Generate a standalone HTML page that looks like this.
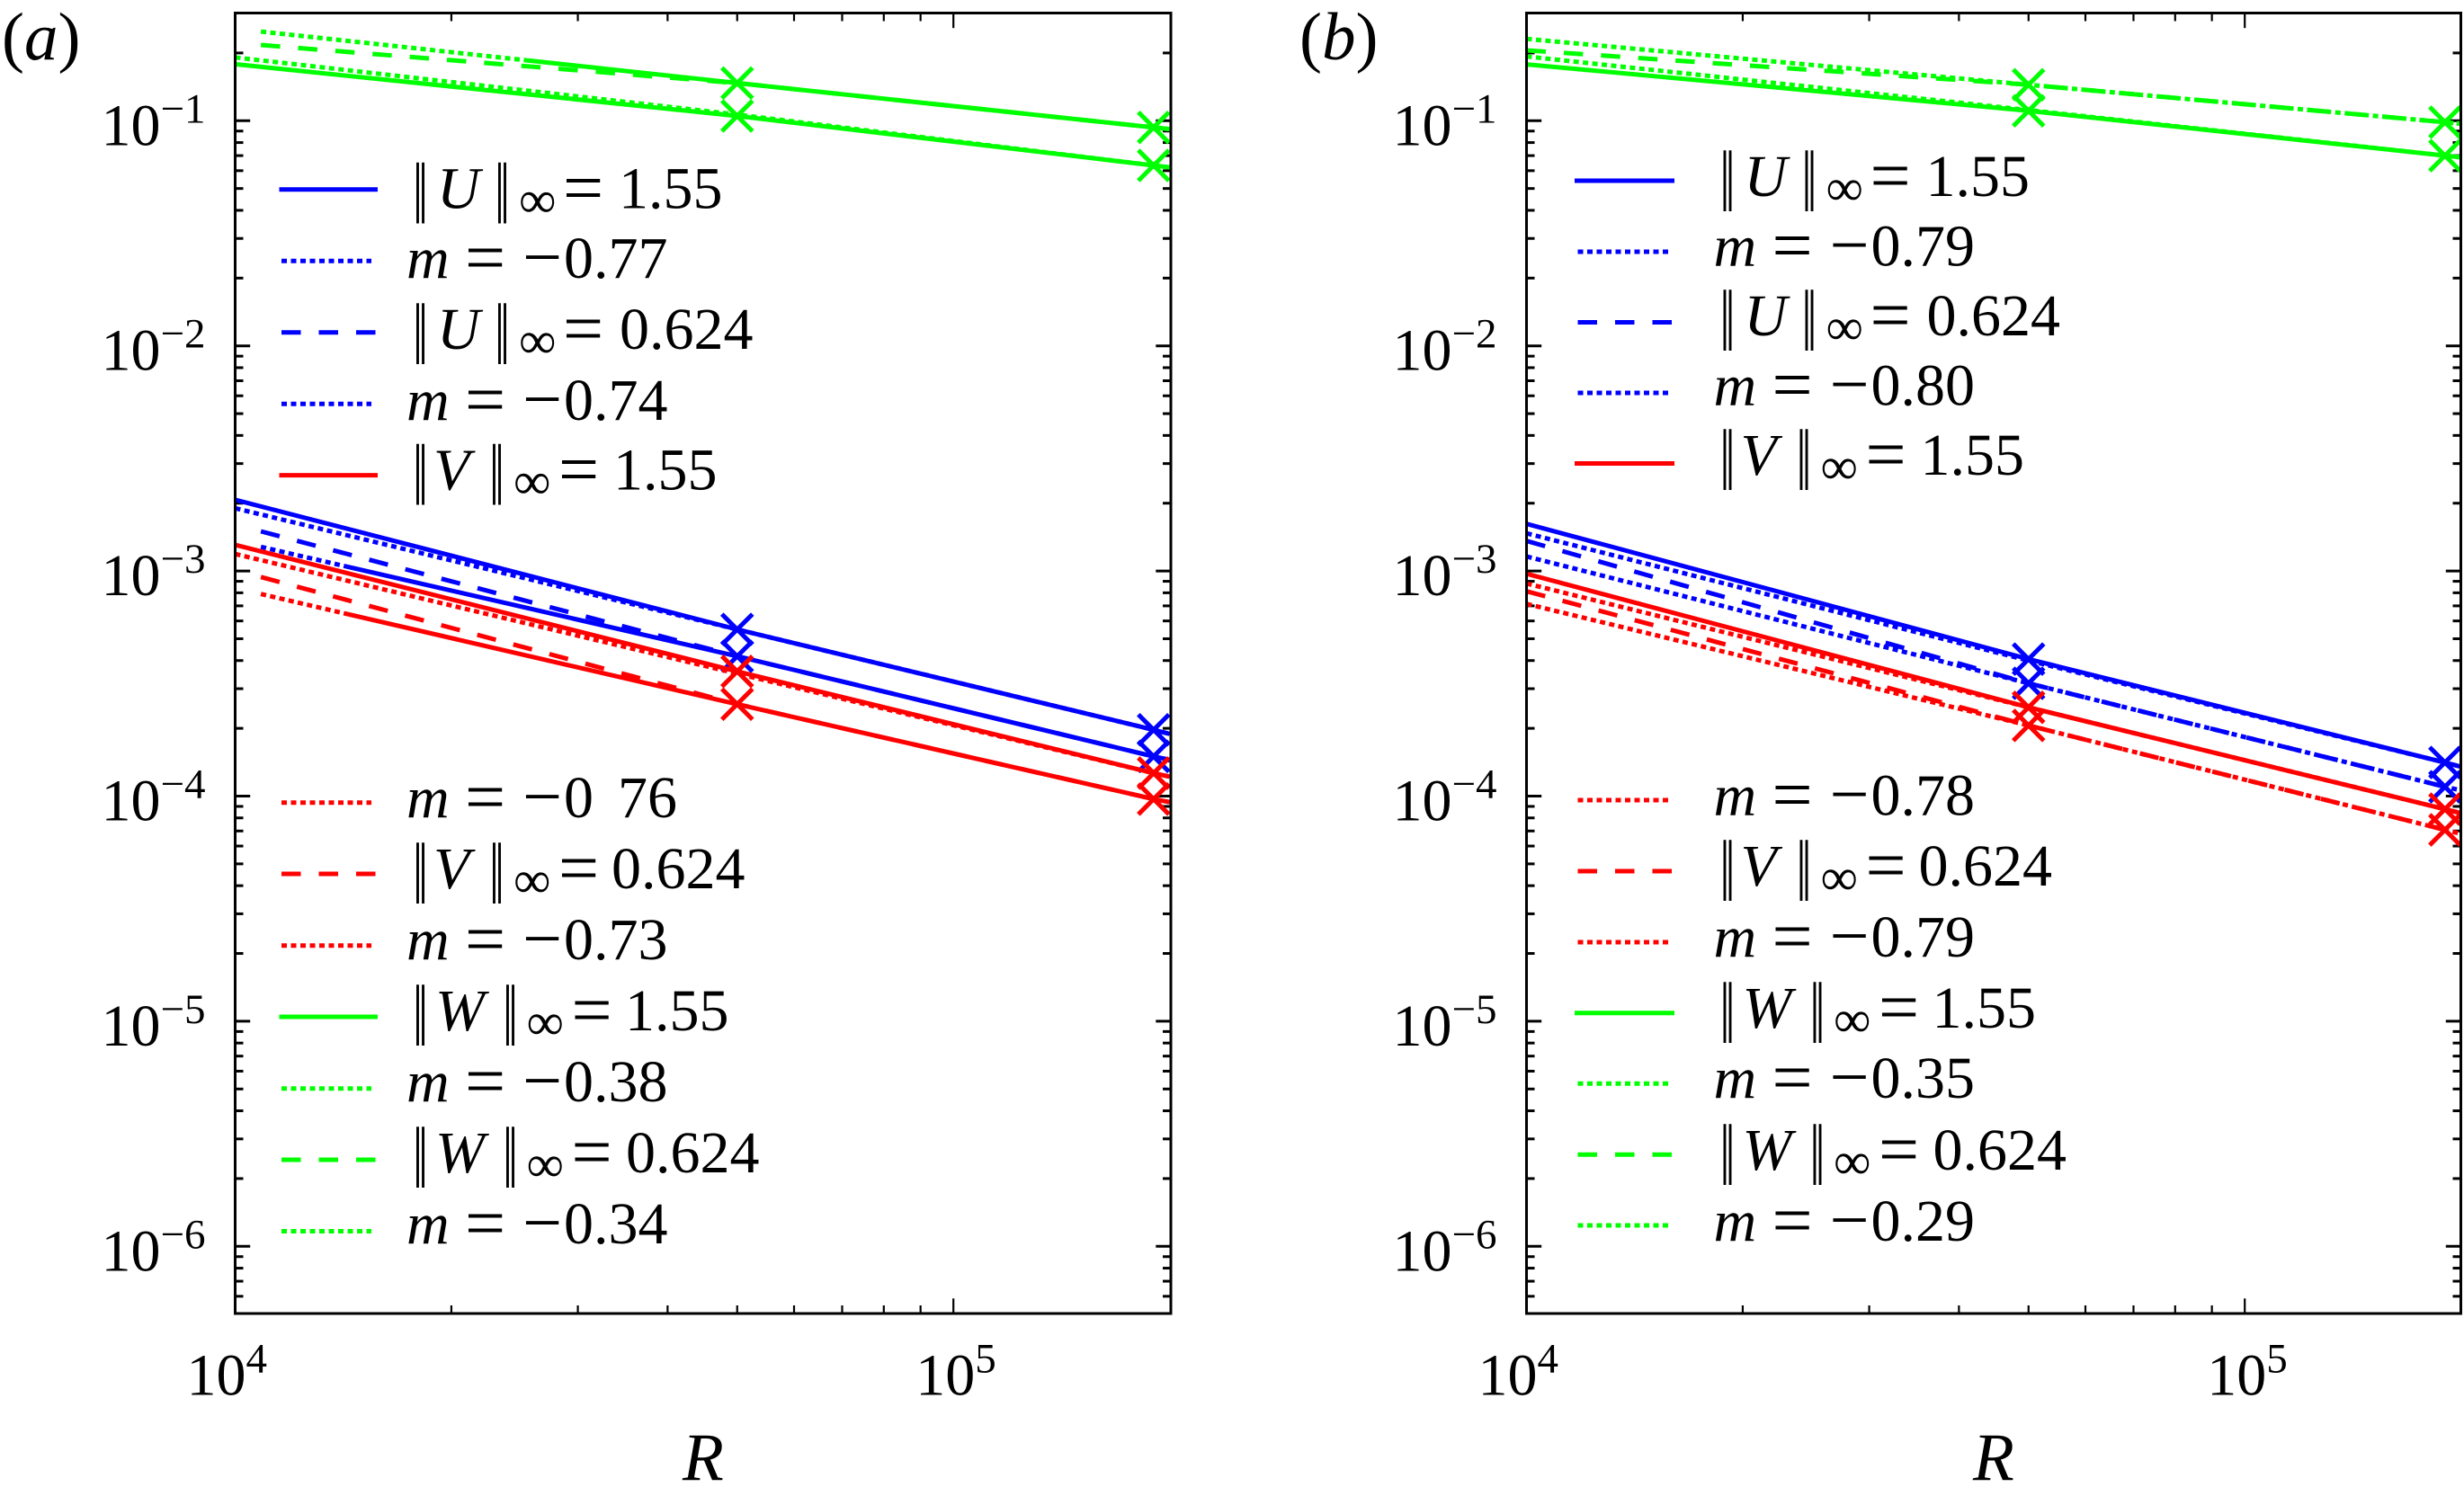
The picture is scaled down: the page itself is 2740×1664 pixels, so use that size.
<!DOCTYPE html>
<html lang="en">
<head>
<meta charset="utf-8">
<title>Scaling of velocity norms with R</title>
<style>
html,body{margin:0;padding:0;background:#fff;}
svg{display:block;}
text{font-family:"Liberation Serif","DejaVu Serif",serif;font-size:66px;fill:#000;}
.i{font-style:italic;}
.s{font-size:58px;}
.e{font-size:80px;baseline-shift:-4px;}
.m{font-size:78px;baseline-shift:-3px;}
.n{font-size:97px;baseline-shift:-17px;}
.sup{font-size:47px;}
.big{font-size:75px;}
.sample{stroke-width:5;fill:none;}
.dash{stroke-dasharray:21.5 20;}
.dot{stroke-dasharray:6 4.5;}
.b{stroke:#0000ff;}.r{stroke:#ff0000;}.g{stroke:#00ff00;}
</style>
</head>
<body>
<svg id="figure" xmlns="http://www.w3.org/2000/svg" width="2740" height="1664" viewBox="0 0 2740 1664">
<rect width="2740" height="1664" fill="#fff"/>
<defs>
<clipPath id="clip-a"><rect x="261.5" y="14.5" width="1040.5" height="1446.5"/></clipPath>
<clipPath id="clip-b"><rect x="1697.5" y="14.5" width="1039" height="1446.5"/></clipPath>
</defs>
<g id="plot-a"></g>
<g id="plot-b"></g>

<text class="big" x="2" y="66">(<tspan class="i">a</tspan>)</text>
<text class="big" x="1445" y="66">(<tspan class="i">b</tspan>)</text>
<text class="big i" x="759" y="1646">R</text>
<text class="big i" x="2194" y="1646">R</text>

<g>
<line class="sample b" x1="310.5" x2="420" y1="210.7" y2="210.7"/>
<text y="231.4"><tspan x="459" class="n" textLength="17" lengthAdjust="spacingAndGlyphs">‖</tspan><tspan x="486" class="i">U</tspan><tspan x="550" class="n" textLength="17" lengthAdjust="spacingAndGlyphs">‖</tspan><tspan x="577" dy="10" class="s">∞</tspan><tspan x="626" dy="-10" class="e">=</tspan><tspan x="688">1.55</tspan></text>
<line class="sample b dot" x1="313" x2="413" y1="290.2" y2="290.2"/>
<text y="309"><tspan x="452" class="i">m</tspan><tspan x="517" class="e">=</tspan><tspan x="581" class="m">−</tspan><tspan x="627">0.77</tspan></text>
<line class="sample b dash" x1="313" x2="418" y1="369.7" y2="369.7"/>
<text y="388"><tspan x="459" class="n" textLength="17" lengthAdjust="spacingAndGlyphs">‖</tspan><tspan x="486" class="i">U</tspan><tspan x="550" class="n" textLength="17" lengthAdjust="spacingAndGlyphs">‖</tspan><tspan x="577" dy="10" class="s">∞</tspan><tspan x="626" dy="-10" class="e">=</tspan><tspan x="689">0.624</tspan></text>
<line class="sample b dot" x1="313" x2="413" y1="449.2" y2="449.2"/>
<text y="466.8"><tspan x="452" class="i">m</tspan><tspan x="517" class="e">=</tspan><tspan x="581" class="m">−</tspan><tspan x="627">0.74</tspan></text>
<line class="sample r" x1="310.5" x2="420" y1="528.6" y2="528.6"/>
<text y="544.6"><tspan x="459" class="n" textLength="17" lengthAdjust="spacingAndGlyphs">‖</tspan><tspan x="482" class="i">V</tspan><tspan x="544" class="n" textLength="17" lengthAdjust="spacingAndGlyphs">‖</tspan><tspan x="571" dy="10" class="s">∞</tspan><tspan x="621" dy="-10" class="e">=</tspan><tspan x="682">1.55</tspan></text>

<line class="sample r dot" x1="313" x2="413" y1="892.7" y2="892.7"/>
<text y="909"><tspan x="452" class="i">m</tspan><tspan x="517" class="e">=</tspan><tspan x="581" class="m">−</tspan><tspan x="627">0</tspan><tspan x="687">76</tspan></text>
<line class="sample r dash" x1="313" x2="418" y1="972" y2="972"/>
<text y="988"><tspan x="459" class="n" textLength="17" lengthAdjust="spacingAndGlyphs">‖</tspan><tspan x="482" class="i">V</tspan><tspan x="544" class="n" textLength="17" lengthAdjust="spacingAndGlyphs">‖</tspan><tspan x="571" dy="10" class="s">∞</tspan><tspan x="621" dy="-10" class="e">=</tspan><tspan x="680">0.624</tspan></text>
<line class="sample r dot" x1="313" x2="413" y1="1051.7" y2="1051.7"/>
<text y="1067"><tspan x="452" class="i">m</tspan><tspan x="517" class="e">=</tspan><tspan x="581" class="m">−</tspan><tspan x="627">0.73</tspan></text>
<line class="sample g" x1="310.5" x2="420" y1="1131" y2="1131"/>
<text y="1146"><tspan x="459" class="n" textLength="17" lengthAdjust="spacingAndGlyphs">‖</tspan><tspan x="484" class="i">W</tspan><tspan x="559" class="n" textLength="17" lengthAdjust="spacingAndGlyphs">‖</tspan><tspan x="585.5" dy="10" class="s">∞</tspan><tspan x="635.5" dy="-10" class="e">=</tspan><tspan x="695">1.55</tspan></text>
<line class="sample g dot" x1="313" x2="413" y1="1210.7" y2="1210.7"/>
<text y="1225"><tspan x="452" class="i">m</tspan><tspan x="517" class="e">=</tspan><tspan x="581" class="m">−</tspan><tspan x="627">0.38</tspan></text>
<line class="sample g dash" x1="313" x2="418" y1="1290" y2="1290"/>
<text y="1304"><tspan x="459" class="n" textLength="17" lengthAdjust="spacingAndGlyphs">‖</tspan><tspan x="484" class="i">W</tspan><tspan x="559" class="n" textLength="17" lengthAdjust="spacingAndGlyphs">‖</tspan><tspan x="585.5" dy="10" class="s">∞</tspan><tspan x="635.5" dy="-10" class="e">=</tspan><tspan x="696">0.624</tspan></text>
<line class="sample g dot" x1="313" x2="413" y1="1369.5" y2="1369.5"/>
<text y="1383"><tspan x="452" class="i">m</tspan><tspan x="517" class="e">=</tspan><tspan x="581" class="m">−</tspan><tspan x="627">0.34</tspan></text>
</g>

<g>
<line class="sample b" x1="1751" x2="1862" y1="201" y2="201"/>
<text y="218"><tspan x="1912.5" class="n" textLength="17" lengthAdjust="spacingAndGlyphs">‖</tspan><tspan x="1939.5" class="i">U</tspan><tspan x="2003.5" class="n" textLength="17" lengthAdjust="spacingAndGlyphs">‖</tspan><tspan x="2030.5" dy="10" class="s">∞</tspan><tspan x="2079.5" dy="-10" class="e">=</tspan><tspan x="2141.5">1.55</tspan></text>
<line class="sample b dot" x1="1754.5" x2="1855" y1="280" y2="280"/>
<text y="295.5"><tspan x="1905.5" class="i">m</tspan><tspan x="1970.5" class="e">=</tspan><tspan x="2034.5" class="m">−</tspan><tspan x="2080.5">0.79</tspan></text>
<line class="sample b dash" x1="1754.5" x2="1860" y1="358.5" y2="358.5"/>
<text y="373"><tspan x="1912.5" class="n" textLength="17" lengthAdjust="spacingAndGlyphs">‖</tspan><tspan x="1939.5" class="i">U</tspan><tspan x="2003.5" class="n" textLength="17" lengthAdjust="spacingAndGlyphs">‖</tspan><tspan x="2030.5" dy="10" class="s">∞</tspan><tspan x="2079.5" dy="-10" class="e">=</tspan><tspan x="2142.5">0.624</tspan></text>
<line class="sample b dot" x1="1754.5" x2="1855" y1="437" y2="437"/>
<text y="450.5"><tspan x="1905.5" class="i">m</tspan><tspan x="1970.5" class="e">=</tspan><tspan x="2034.5" class="m">−</tspan><tspan x="2080.5">0.80</tspan></text>
<line class="sample r" x1="1751" x2="1862" y1="515.5" y2="515.5"/>
<text y="528"><tspan x="1912.5" class="n" textLength="17" lengthAdjust="spacingAndGlyphs">‖</tspan><tspan x="1935.5" class="i">V</tspan><tspan x="1997.5" class="n" textLength="17" lengthAdjust="spacingAndGlyphs">‖</tspan><tspan x="2024.5" dy="10" class="s">∞</tspan><tspan x="2074.5" dy="-10" class="e">=</tspan><tspan x="2135.5">1.55</tspan></text>

<line class="sample r dot" x1="1754.5" x2="1855" y1="890" y2="890"/>
<text y="906.7"><tspan x="1905.5" class="i">m</tspan><tspan x="1970.5" class="e">=</tspan><tspan x="2034.5" class="m">−</tspan><tspan x="2080.5">0.78</tspan></text>
<line class="sample r dash" x1="1754.5" x2="1860" y1="969" y2="969"/>
<text y="985"><tspan x="1912.5" class="n" textLength="17" lengthAdjust="spacingAndGlyphs">‖</tspan><tspan x="1935.5" class="i">V</tspan><tspan x="1997.5" class="n" textLength="17" lengthAdjust="spacingAndGlyphs">‖</tspan><tspan x="2024.5" dy="10" class="s">∞</tspan><tspan x="2074.5" dy="-10" class="e">=</tspan><tspan x="2133.5">0.624</tspan></text>
<line class="sample r dot" x1="1754.5" x2="1855" y1="1048" y2="1048"/>
<text y="1064"><tspan x="1905.5" class="i">m</tspan><tspan x="1970.5" class="e">=</tspan><tspan x="2034.5" class="m">−</tspan><tspan x="2080.5">0.79</tspan></text>
<line class="sample g" x1="1751" x2="1862" y1="1126.7" y2="1126.7"/>
<text y="1143"><tspan x="1912.5" class="n" textLength="17" lengthAdjust="spacingAndGlyphs">‖</tspan><tspan x="1937.5" class="i">W</tspan><tspan x="2012.5" class="n" textLength="17" lengthAdjust="spacingAndGlyphs">‖</tspan><tspan x="2039" dy="10" class="s">∞</tspan><tspan x="2089" dy="-10" class="e">=</tspan><tspan x="2148.5">1.55</tspan></text>
<line class="sample g dot" x1="1754.5" x2="1855" y1="1205.3" y2="1205.3"/>
<text y="1221"><tspan x="1905.5" class="i">m</tspan><tspan x="1970.5" class="e">=</tspan><tspan x="2034.5" class="m">−</tspan><tspan x="2080.5">0.35</tspan></text>
<line class="sample g dash" x1="1754.5" x2="1860" y1="1284.3" y2="1284.3"/>
<text y="1301"><tspan x="1912.5" class="n" textLength="17" lengthAdjust="spacingAndGlyphs">‖</tspan><tspan x="1937.5" class="i">W</tspan><tspan x="2012.5" class="n" textLength="17" lengthAdjust="spacingAndGlyphs">‖</tspan><tspan x="2039" dy="10" class="s">∞</tspan><tspan x="2089" dy="-10" class="e">=</tspan><tspan x="2149.5">0.624</tspan></text>
<line class="sample g dot" x1="1754.5" x2="1855" y1="1363" y2="1363"/>
<text y="1380"><tspan x="1905.5" class="i">m</tspan><tspan x="1970.5" class="e">=</tspan><tspan x="2034.5" class="m">−</tspan><tspan x="2080.5">0.29</tspan></text>
</g>
</svg>

<script>
// Axis data
const xMajorTicks = [1e4, 1e5];
const xMajorExponents = ['4', '5'];
const xMinorTicks = [2e4, 3e4, 4e4, 5e4, 6e4, 7e4, 8e4, 9e4];
const yDecades = [-1, -2, -3, -4, -5, -6];
const yMinorMultipliers = [2, 3, 4, 5, 6, 7, 8, 9];

// Sample Reynolds numbers
const rFromStart = [1e4, 5e4, 1.9e5, 2e5];
const rFromLate = [1.086e4, 5e4, 1.9e5, 2e5];
const markerIndices = [1, 2];

// Panel (a) series values
const aU155 = [2.07e-3, 5.5e-4, 1.97e-4, 1.89e-4];
const aU155Fit = [1.9e-3, 5.5e-4, 1.97e-4, 1.89e-4];
const aU624 = [1.5e-3, 4.18e-4, 1.5e-4, 1.44e-4];
const aU624Fit = [1.28e-3, 4.18e-4, 1.5e-4, 1.45e-4];
const aV155 = [1.306e-3, 3.58e-4, 1.265e-4, 1.22e-4];
const aV155Fit = [1.19e-3, 3.5e-4, 1.265e-4, 1.22e-4];
const aV624 = [9.4e-4, 2.56e-4, 9.7e-5, 9.4e-5];
const aV624Fit = [7.9e-4, 2.56e-4, 9.7e-5, 9.4e-5];
const aW155 = [0.1783, 0.105, 0.0633, 0.0621];
const aW155Fit = [0.1911, 0.1065, 0.0633, 0.062];
const aW624 = [0.217, 0.147, 0.0934, 0.0918];
const aW624Fit = [0.249, 0.147, 0.0934, 0.0918];

// Panel (b) series values
const bU155 = [1.62e-3, 4.06e-4, 1.41e-4, 1.35e-4];
const bU155Fit = [1.47e-3, 4.0e-4, 1.41e-4, 1.35e-4];
const bU624 = [1.36e-3, 3.17e-4, 1.1e-4, 1.06e-4];
const bU624Fit = [1.16e-3, 3.17e-4, 1.1e-4, 1.06e-4];
const bV155 = [9.72e-4, 2.48e-4, 8.75e-5, 8.4e-5];
const bV155Fit = [8.8e-4, 2.48e-4, 8.75e-5, 8.4e-5];
const bV624 = [8.13e-4, 2.06e-4, 7.08e-5, 6.8e-5];
const bV624Fit = [7.14e-4, 2.06e-4, 7.08e-5, 6.8e-5];
const bW155 = [0.178, 0.1107, 0.07, 0.0688];
const bW155Fit = [0.193, 0.1115, 0.07, 0.0688];
const bW624 = [0.2055, 0.1445, 0.0985, 0.097];
const bW624Fit = [0.231, 0.1445, 0.0985, 0.097];

const BLUE = '#0000ff', RED = '#ff0000', GREEN = '#00ff00';
const SOLID = 'none', DASHED = '21.5 20', DOTTED = '6 4.5';
const SVGNS = 'http://www.w3.org/2000/svg';

function dotsThenSolid(count) {
  const parts = [];
  for (let i = 0; i < count; i++) parts.push('6 4.5');
  parts.push('3000 0');
  return parts.join(' ');
}

function make(tag, attrs, parent) {
  const node = document.createElementNS(SVGNS, tag);
  for (const key in attrs) node.setAttribute(key, attrs[key]);
  parent.appendChild(node);
  return node;
}

const DECADE_X = 798.7, DECADE_Y = 250.4, Y_AT_TENTH = 134.3;
const TOP = 14.5, BOTTOM = 1461;

function buildPanel(id, left, right, clipId, series) {
  const root = document.getElementById(id);
  const xOf = function (r) { return left + (Math.log10(r) - 4) * DECADE_X; };
  const yOf = function (v) { return Y_AT_TENTH + (-1 - Math.log10(v)) * DECADE_Y; };

  function xTick(r, len) {
    [[BOTTOM, BOTTOM - len], [TOP, TOP + len]].forEach(function (ends) {
      const t = make('line', {x1: xOf(r), x2: xOf(r), y1: ends[0], y2: ends[1], stroke: '#000', 'stroke-width': 2.2}, root);
      
      
    });
  }
  function yTick(v, len) {
    [[left, left + len], [right, right - len]].forEach(function (ends) {
      const t = make('line', {x1: ends[0], x2: ends[1], y1: yOf(v), y2: yOf(v), stroke: '#000', 'stroke-width': 3}, root);
      
      
    });
  }

  xMajorTicks.forEach(function (r) { xTick(r, 16.7); });
  xMinorTicks.forEach(function (r) { xTick(r, 9); });
  yDecades.forEach(function (d) {
    yTick(Math.pow(10, d), 16.7);
    yMinorMultipliers.forEach(function (m) {
      const v = m * Math.pow(10, d);
      if (v < 0.3) yTick(v, 9);
    });
  });
  yMinorMultipliers.forEach(function (m) {
    const v = m * 1e-7;
    if (v > 5e-7) yTick(v, 9);
  });

  // y tick labels
  yDecades.forEach(function (d) {
    const y = yOf(Math.pow(10, d));
    const lab = make('text', {x: left - 149, y: y + 27}, root);
    
    
    lab.appendChild(document.createTextNode('10'));
    const sup = make('tspan', {class: 'sup', x: left - 83, y: y + 2}, lab);
    sup.textContent = '−' + Math.abs(d);
  });

  // x tick labels
  const xOffsets = [-54, -42];
  xMajorTicks.forEach(function (r, i) {
    const x = xOf(r) + xOffsets[i];
    const lab = make('text', {x: x, y: 1551.7}, root);
    
    
    lab.appendChild(document.createTextNode('10'));
    const sup = make('tspan', {class: 'sup', x: x + 66, y: 1526.7}, lab);
    sup.textContent = xMajorExponents[i];
  });

  // series
  const marks = make('g', {'clip-path': 'url(#' + clipId + ')'}, root);
  
  
  series.forEach(function (s) {
    const pts = s.r.map(function (r, i) { return xOf(r).toFixed(2) + ',' + yOf(s.v[i]).toFixed(2); }).join(' ');
    const line = make('polyline', {points: pts, fill: 'none', stroke: s.color, 'stroke-width': 5, 'stroke-dasharray': s.dash}, marks);
    
    
    if (s.mark) {
      markerIndices.forEach(function (k) {
        const cx = xOf(s.r[k]), cy = yOf(s.v[k]), h = 17;
        const cross = make('path', {d: 'M' + (cx - h) + ' ' + (cy - h) + 'L' + (cx + h) + ' ' + (cy + h) + 'M' + (cx - h) + ' ' + (cy + h) + 'L' + (cx + h) + ' ' + (cy - h), fill: 'none', stroke: s.color, 'stroke-width': 5}, marks);
        
        
      });
    }
  });

  // frame
  const frame = make('rect', {x: left, y: TOP, width: right - left, height: BOTTOM - TOP, fill: 'none', stroke: '#000', 'stroke-width': 3}, root);
  
  
}

buildPanel('plot-a', 261.5, 1302, 'clip-a', [
  {name: 'u-0-624-fit', color: BLUE, dash: dotsThenSolid(9), r: rFromLate, v: aU624Fit},
  {name: 'u-0-624', color: BLUE, dash: DASHED, r: rFromLate, v: aU624, mark: true},
  {name: 'u-1-55-fit', color: BLUE, dash: DOTTED, r: rFromStart, v: aU155Fit},
  {name: 'u-1-55', color: BLUE, dash: SOLID, r: rFromStart, v: aU155, mark: true},
  {name: 'v-0-624-fit', color: RED, dash: dotsThenSolid(9), r: rFromLate, v: aV624Fit},
  {name: 'v-0-624', color: RED, dash: DASHED, r: rFromLate, v: aV624, mark: true},
  {name: 'v-1-55-fit', color: RED, dash: DOTTED, r: rFromStart, v: aV155Fit},
  {name: 'v-1-55', color: RED, dash: SOLID, r: rFromStart, v: aV155, mark: true},
  {name: 'w-0-624-fit', color: GREEN, dash: dotsThenSolid(28), r: rFromLate, v: aW624Fit},
  {name: 'w-0-624', color: GREEN, dash: DASHED, r: rFromLate, v: aW624, mark: true},
  {name: 'w-1-55-fit', color: GREEN, dash: DOTTED, r: rFromStart, v: aW155Fit},
  {name: 'w-1-55', color: GREEN, dash: SOLID, r: rFromStart, v: aW155, mark: true}
]);

buildPanel('plot-b', 1697.5, 2736.5, 'clip-b', [
  {name: 'u-0-624-fit', color: BLUE, dash: DOTTED, r: rFromStart, v: bU624Fit},
  {name: 'u-0-624', color: BLUE, dash: DASHED, r: rFromStart, v: bU624, mark: true},
  {name: 'u-1-55-fit', color: BLUE, dash: DOTTED, r: rFromStart, v: bU155Fit},
  {name: 'u-1-55', color: BLUE, dash: SOLID, r: rFromStart, v: bU155, mark: true},
  {name: 'v-0-624-fit', color: RED, dash: DOTTED, r: rFromStart, v: bV624Fit},
  {name: 'v-0-624', color: RED, dash: DASHED, r: rFromStart, v: bV624, mark: true},
  {name: 'v-1-55-fit', color: RED, dash: DOTTED, r: rFromStart, v: bV155Fit},
  {name: 'v-1-55', color: RED, dash: SOLID, r: rFromStart, v: bV155, mark: true},
  {name: 'w-0-624-fit', color: GREEN, dash: DOTTED, r: rFromStart, v: bW624Fit},
  {name: 'w-0-624', color: GREEN, dash: DASHED, r: rFromStart, v: bW624, mark: true},
  {name: 'w-1-55-fit', color: GREEN, dash: DOTTED, r: rFromStart, v: bW155Fit},
  {name: 'w-1-55', color: GREEN, dash: SOLID, r: rFromStart, v: bW155, mark: true}
]);
</script>
</body>
</html>
